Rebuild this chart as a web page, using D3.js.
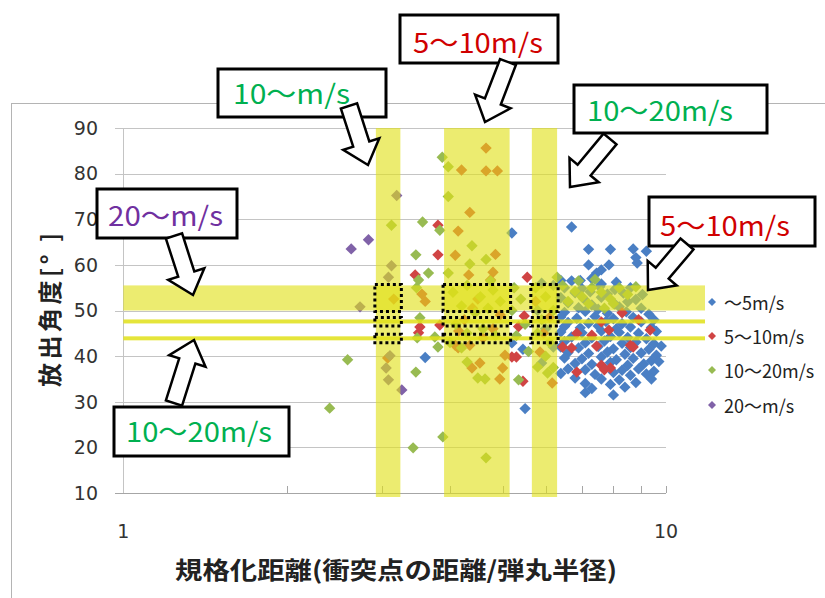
<!DOCTYPE html>
<html><head><meta charset="utf-8">
<script src="https://cdn.jsdelivr.net/npm/d3@7"></script>
<style>body{margin:0;background:#fff;} svg{display:block;}</style>
</head><body><svg id="c" width="825" height="598"></svg>
<script>
// ---------- data ----------
const seriesNames = ["〜5m/s", "5〜10m/s", "10〜20m/s", "20〜m/s"];
const seriesColors = ["#4a7fc4", "#d04444", "#98bb52", "#8062a8"];
const yTickValues = [10, 20, 30, 40, 50, 60, 70, 80, 90];
const xTickLabels = [1, 10];
const xMinorTicks = [2, 3, 4, 5, 6, 7, 8, 9, 10];

const speedUnder5 = [
[5.20,67.0],[6.70,68.3],[7.20,63.4],[7.90,63.4],[8.70,63.5],[9.20,63.0],[8.80,61.6],[8.85,60.4],[7.20,60.0],[7.85,60.0],[7.60,58.9],[7.45,58.2],[7.30,57.0],
[6.40,56.6],[6.70,56.5],[6.95,56.6],[8.10,56.2],[7.60,55.8],
[6.50,55.0],[7.00,54.8],[7.55,55.2],[8.05,54.6],[8.60,55.0],
[6.80,53.9],[7.25,54.1],[7.80,53.6],[8.35,53.8],[9.05,53.5],
[6.40,52.8],[7.05,52.6],[7.60,52.9],[8.80,52.4],
[6.60,51.7],[7.30,51.2],[8.05,51.4],[8.50,51.9],
[6.90,50.6],[7.50,50.3],[8.20,50.8],[9.00,50.5],
[6.50,49.6],[7.10,49.8],[7.80,49.4],[8.45,49.7],[9.30,49.2],
[6.40,48.6],[6.85,48.3],[7.40,48.7],[8.00,48.2],[8.70,48.5],[9.50,48.0],
[6.60,47.4],[7.20,47.2],[7.75,47.6],[8.30,47.1],[9.00,47.5],
[6.50,46.5],[6.95,46.2],[7.50,46.6],[8.10,46.0],[8.60,46.4],[9.40,46.3],
[6.40,45.3],[7.00,45.1],[7.60,45.5],[8.20,45.2],[8.90,45.0],[9.60,45.4],
[6.70,44.2],[7.30,44.0],[7.90,44.3],[8.50,44.1],[9.20,43.8],
[6.50,43.2],[7.10,42.9],[7.70,43.3],[8.30,42.8],[8.80,43.1],[9.50,42.7],
[6.40,42.0],[6.90,41.8],[7.50,42.1],[8.00,41.6],[8.60,41.9],[9.30,41.5],[9.80,42.2],
[6.60,40.8],[7.20,40.6],[7.80,40.9],[8.40,40.4],[9.00,40.7],[9.60,40.2],
[6.50,39.6],[7.00,39.4],[7.60,39.8],[8.10,39.2],[8.70,39.5],[9.40,39.0],
[6.80,38.4],[7.30,38.2],[7.90,38.6],[8.50,38.0],[9.10,38.3],[9.70,38.8],
[6.60,37.2],[7.10,37.0],[7.70,37.4],[8.30,36.9],[8.90,37.2],[9.50,36.7],
[6.40,36.2],[7.40,36.0],[8.00,36.4],[8.60,35.8],[9.20,36.1],
[6.80,35.2],[7.60,35.0],[8.20,34.8],[9.40,35.0],
[7.10,34.0],[7.90,33.8],[8.80,34.2],
[7.30,32.9],[8.40,33.2],
[7.10,32.0],[8.00,31.5],
[5.50,28.5],[3.60,39.7],[5.20,42.9],[5.45,41.5],[5.80,50.0],[6.00,46.0],[6.20,42.0],[5.90,38.5],[6.20,55.5],[5.90,56.0]
];

const speed5to10 = [
[3.80,68.7],[3.80,62.2],[3.45,57.8],[3.52,46.4],[3.50,45.1],[3.83,46.8],[3.60,52.0],[3.55,53.6],[3.07,39.6],[3.15,52.5],
[4.66,85.6],[4.20,80.8],[4.66,80.6],[4.89,80.6],[4.35,71.5],[4.14,67.4],[4.09,62.1],[4.85,62.3],[4.33,57.8],[4.80,58.4],[4.75,56.7],
[4.50,52.5],[4.25,48.0],[4.80,46.0],[4.60,44.0],[4.95,49.0],[4.15,45.5],[4.40,50.5],
[4.09,42.4],[4.35,42.4],[4.54,38.5],[4.39,37.4],[4.94,35.0],[5.05,40.2],[5.00,37.4],[4.14,41.8],
[5.55,57.3],[5.48,48.8],[5.30,39.8],[5.20,39.8],[5.45,34.5],[5.35,46.5],
[5.75,52.0],[5.95,45.0],[6.10,48.5],[5.86,40.9],[6.17,34.1],
[6.45,42.0],[6.85,36.5],[7.60,38.0],[7.90,37.4],[7.45,42.2],[8.70,42.0],[8.30,49.5],[6.85,45.0],[7.30,44.6],[7.85,45.7],[7.60,47.5],[8.60,42.4],[6.70,41.8],[7.70,37.0],[9.35,45.7],[8.90,48.0]
];

const speed10to20 = [
[2.40,28.6],[2.59,39.2],[3.42,19.9],[3.46,36.5],[3.88,22.3],[4.66,17.7],[3.80,42.0],[3.75,44.2],
[3.46,62.2],[3.56,69.4],[3.83,67.6],[3.87,83.6],[3.97,81.5],[3.97,75.0],[4.39,64.2],[4.35,60.2],[4.66,61.2],[3.97,58.2],[3.65,58.2],[3.50,56.7],[3.47,55.0],[3.52,48.4],[3.48,44.0],[3.12,68.7],
[4.05,54.0],[4.30,55.5],[4.55,53.0],[4.80,54.5],[4.95,52.0],[4.20,51.0],[4.45,49.5],[4.70,50.5],[4.10,47.0],[4.60,46.0],[4.85,44.5],[4.30,45.0],[4.00,43.0],[4.75,56.5],
[4.20,41.8],[4.30,38.7],[4.50,35.2],[4.64,35.0],[5.35,34.8],[5.58,41.0],[5.80,37.6],[6.05,36.3],
[5.25,55.0],[5.40,52.5],[5.20,50.0],[5.50,47.0],[5.30,44.5],
[5.75,55.0],[6.00,53.0],[6.20,50.0],[5.90,48.0],[5.80,45.0],[6.10,43.0],[6.00,40.0],[6.20,37.5],
[6.45,55.5],[6.80,54.2],[7.00,53.0],[7.30,55.0],[7.60,54.0],[7.90,52.5],[8.20,55.0],[8.50,53.5],[6.60,52.0],[7.20,51.5],[7.70,50.5],[8.00,51.5],[8.80,55.2],[6.90,56.5],[7.40,56.8],[6.30,57.3]
];

const speedOver20 = [
[2.63,63.5],[2.83,65.5],[2.73,50.8],[3.19,75.2],[3.12,59.8],[3.08,57.3],[3.10,40.1],[3.05,37.4],[3.08,34.8],[3.26,32.6]
];

const allSeries = [speedUnder5, speed5to10, speed10to20, speedOver20];

// highlighted ranges
const vBands = [[2.92, 3.24], [3.90, 5.15], [5.66, 6.30]];
const hBand = [50.0, 55.5];
const hLines = [47.6, 43.9];

// callouts
const calloutTexts = ["10〜m/s", "5〜10m/s", "10〜20m/s", "5〜10m/s", "20〜m/s", "10〜20m/s"];
const calloutColors = ["#00b050", "#d00000", "#00b050", "#d00000", "#7030a0", "#00b050"];

// ---------- drawing ----------
const svg = d3.select("#c");
const x = d3.scaleLog().domain([1, 10]).range([123.3, 666]);
const y = d3.scaleLinear().domain([10, 90]).range([493, 128]);

// chart frame
svg.append("rect").attr("x", 11.5).attr("y", 103.5).attr("width", 900).attr("height", 600)
  .attr("fill", "none").attr("stroke", "#b4b4b4").attr("stroke-width", 1);

// grid lines
svg.append("g").selectAll("line").data(yTickValues).join("line")
  .attr("x1", 115).attr("x2", 666)
  .attr("y1", d => Math.round(y(d)) + 0.5).attr("y2", d => Math.round(y(d)) + 0.5)
  .attr("stroke", d => d === 10 ? "#a6a6a6" : "#c4c4c4").attr("stroke-width", 1);
svg.append("line").attr("x1", 123.5).attr("x2", 123.5).attr("y1", y(90)).attr("y2", y(10))
  .attr("stroke", "#c4c4c4");
svg.append("g").selectAll("line").data(xMinorTicks).join("line")
  .attr("x1", d => Math.round(x(d)) + 0.5).attr("x2", d => Math.round(x(d)) + 0.5)
  .attr("y1", y(10)).attr("y2", y(10) - 7).attr("stroke", "#a6a6a6");

// tick labels
svg.append("g").selectAll("text").data(yTickValues).join("text")
  .attr("x", 98).attr("y", d => y(d)).attr("dy", "0.36em")
  .attr("text-anchor", "end").attr("font-family", "DejaVu Sans").attr("font-size", 19)
  .attr("fill", "#333").text(d => d);
svg.append("g").selectAll("text").data(xTickLabels).join("text")
  .attr("x", d => x(d)).attr("y", 538)
  .attr("text-anchor", "middle").attr("font-family", "DejaVu Sans").attr("font-size", 19)
  .attr("fill", "#333").text(d => d);

// axis titles
svg.append("text").attr("transform", "translate(48,310) rotate(-90)")
  .attr("text-anchor", "middle").attr("dominant-baseline", "central")
  .attr("font-family", "Noto Sans CJK JP").attr("font-weight", "bold").attr("font-size", 24)
  .attr("fill", "#222").attr("textLength", 154).attr("lengthAdjust", "spacing")
  .text("放出角度[° ]");
svg.append("text").attr("x", 396).attr("y", 568)
  .attr("text-anchor", "middle").attr("dominant-baseline", "central")
  .attr("font-family", "Noto Sans CJK JP").attr("font-weight", "bold").attr("font-size", 24)
  .attr("fill", "#222").attr("textLength", 442).attr("lengthAdjust", "spacingAndGlyphs")
  .text("規格化距離(衝突点の距離/弾丸半径)");

// diamond path
function diamond(cx, cy, r) {
  const p = d3.path();
  p.moveTo(cx, cy - r); p.lineTo(cx + r, cy); p.lineTo(cx, cy + r); p.lineTo(cx - r, cy); p.closePath();
  return p.toString();
}

// points
allSeries.forEach((pts, i) => {
  svg.append("g").selectAll("path").data(pts).join("path")
    .attr("d", d => diamond(x(d[0]), y(d[1]), 5.7))
    .attr("fill", seriesColors[i]);
});

// legend
const legY = [302, 336, 370, 405];
seriesNames.forEach((name, i) => {
  svg.append("path").attr("d", diamond(712, legY[i], 4)).attr("fill", seriesColors[i]);
  svg.append("text").attr("x", 724).attr("y", legY[i]).attr("dominant-baseline", "central")
    .attr("font-family", "Noto Sans CJK JP").attr("font-size", 18).attr("fill", "#222").text(name);
});

// yellow highlight bands (semi-transparent, over the points)
const yellow = "#e0e018", yOp = 0.62;
const bandG = svg.append("g");
bandG.selectAll("rect.v").data(vBands).join("rect").attr("class", "v")
  .attr("x", d => x(d[0])).attr("width", d => x(d[1]) - x(d[0]))
  .attr("y", y(90)).attr("height", y(10) - y(90) + 4)
  .attr("fill", yellow).attr("opacity", yOp);
bandG.append("rect").attr("x", x(1)).attr("width", 705 - x(1))
  .attr("y", y(hBand[1])).attr("height", y(hBand[0]) - y(hBand[1]))
  .attr("fill", yellow).attr("opacity", yOp);
bandG.selectAll("rect.h").data(hLines).join("rect").attr("class", "h")
  .attr("x", x(1)).attr("width", 705 - x(1))
  .attr("y", d => y(d) - 2).attr("height", 4)
  .attr("fill", yellow).attr("opacity", 0.85);

// dotted boxes around the intersections
const dotG = svg.append("g").attr("fill", "none").attr("stroke", "#000")
  .attr("stroke-width", 3).attr("stroke-dasharray", "3,3");
vBands.forEach(b => {
  const x0 = x(b[0]) - 1, x1 = x(b[1]) + 1;
  dotG.append("rect").attr("x", x0).attr("width", x1 - x0)
    .attr("y", y(hBand[1]) - 1).attr("height", y(hBand[0]) - y(hBand[1]) + 2);
  hLines.forEach(v => {
    dotG.append("rect").attr("x", x0).attr("width", x1 - x0)
      .attr("y", y(v) - 4).attr("height", 8.5);
  });
});

// callout boxes
const boxes = [
  {x: 218, y: 69, w: 168, h: 48, tx: 233, tb: 104, tw: 117},
  {x: 400, y: 15, w: 158, h: 48, tx: 413, tb: 53, tw: 130},
  {x: 574, y: 85, w: 193, h: 48, tx: 587, tb: 121, tw: 146},
  {x: 649, y: 197, w: 166, h: 49, tx: 660, tb: 236, tw: 130},
  {x: 97, y: 189, w: 140, h: 49, tx: 108, tb: 226, tw: 115},
  {x: 114, y: 407, w: 175, h: 49, tx: 126, tb: 442, tw: 146}
];
const arrows = [
  [349, 106, 368, 165],
  [508, 62, 485, 122],
  [610, 139, 570, 187],
  [687, 244, 648, 290],
  [174, 236, 193, 295],
  [174, 403, 194, 340]
];
const cg = svg.append("g");
boxes.forEach((b, i) => {
  cg.append("rect").attr("x", b.x).attr("y", b.y).attr("width", b.w).attr("height", b.h)
    .attr("fill", "#fff").attr("stroke", "#000").attr("stroke-width", 3);
  cg.append("text").attr("x", b.tx).attr("y", b.tb)
    .attr("font-family", "Noto Sans CJK JP").attr("font-size", 27)
    .attr("fill", calloutColors[i]).attr("textLength", b.tw).attr("lengthAdjust", "spacingAndGlyphs")
    .text(calloutTexts[i]);
});
function blockArrow(x1, y1, x2, y2) {
  const dx = x2 - x1, dy = y2 - y1, L = Math.hypot(dx, dy);
  const ux = dx / L, uy = dy / L, nx = -uy, ny = ux;
  const sw = 8.5, hw = 19, hl = 22;
  const bx = x2 - ux * hl, by = y2 - uy * hl;
  const pts = [
    [x1 + nx * sw, y1 + ny * sw], [bx + nx * sw, by + ny * sw], [bx + nx * hw, by + ny * hw],
    [x2, y2], [bx - nx * hw, by - ny * hw], [bx - nx * sw, by - ny * sw], [x1 - nx * sw, y1 - ny * sw]
  ];
  return "M" + pts.map(p => p[0].toFixed(1) + "," + p[1].toFixed(1)).join("L") + "Z";
}
arrows.forEach(a => {
  cg.append("path").attr("d", blockArrow(...a)).attr("fill", "#fff")
    .attr("stroke", "#000").attr("stroke-width", 2.5).attr("stroke-linejoin", "miter");
});
</script>
</body></html>
